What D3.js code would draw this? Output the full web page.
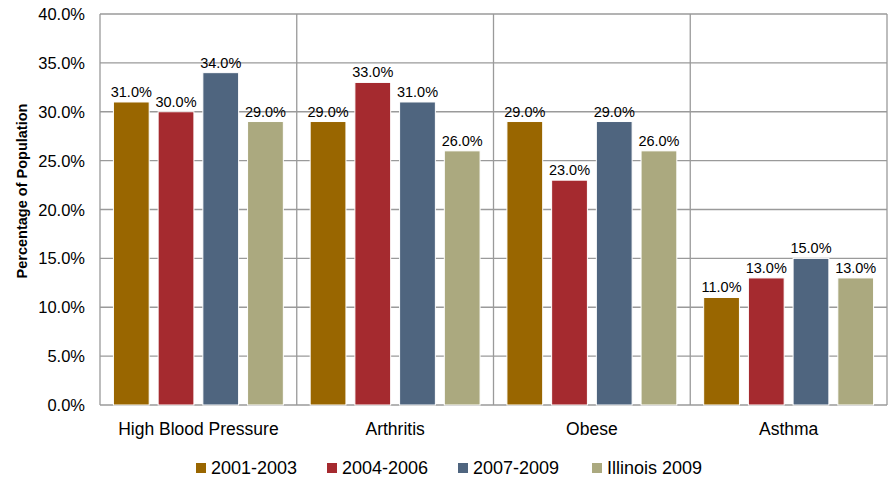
<!DOCTYPE html>
<html>
<head>
<meta charset="utf-8">
<script src="https://cdn.jsdelivr.net/npm/d3@7"></script>
<style>
  body { margin: 0; background: #fff; }
  text { font-family: "Liberation Sans", Arial, sans-serif; fill: #000; }
</style>
</head>
<body>
<script>
'use strict';

const categories = ["High Blood Pressure", "Arthritis", "Obese", "Asthma"];
const seriesNames = ["2001-2003", "2004-2006", "2007-2009", "Illinois 2009"];
const seriesColors = ["#996600", "#a52a2f", "#4f657f", "#aba97f"];
const values2001 = [31, 29, 29, 11];
const values2004 = [30, 33, 23, 13];
const values2007 = [34, 31, 29, 15];
const valuesIL = [29, 26, 26, 13];
const yTicks = [0, 5, 10, 15, 20, 25, 30, 35, 40];

const allSeries = [values2001, values2004, values2007, valuesIL];

let width = 889, height = 479;
let plot = {left: 100, right: 887, top: 14, bottom: 405};

let svg = d3.select('body').append('svg')
  .attr('width', width)
  .attr('height', height);

let xScale = d3.scaleBand()
  .domain(categories)
  .range([plot.left, plot.right]);

let inner = d3.scaleBand()
  .domain(seriesNames)
  .range([0, xScale.bandwidth()])
  .paddingInner(0.2)
  .paddingOuter(0.3);

let yScale = d3.scaleLinear()
  .domain([0, 40])
  .range([plot.bottom, plot.top]);

// horizontal gridlines
svg.append('g')
  .selectAll('line')
  .data(yTicks)
  .enter()
  .append('line')
    .attr('x1', plot.left)
    .attr('x2', plot.right)
    .attr('y1', d => yScale(d))
    .attr('y2', d => yScale(d))
    .attr('stroke', '#9a9a9a')
    .attr('stroke-width', 1.3);

// vertical separators between categories
let edges = categories.map(c => xScale(c)).concat([plot.right]);
svg.append('g')
  .selectAll('line')
  .data(edges)
  .enter()
  .append('line')
    .attr('x1', d => d)
    .attr('x2', d => d)
    .attr('y1', plot.top)
    .attr('y2', plot.bottom)
    .attr('stroke', '#9a9a9a')
    .attr('stroke-width', 1.3);

// bars + value labels
for (let s = 0; s < allSeries.length; s++) {
  let g = svg.append('g');
  g.selectAll('rect')
    .data(allSeries[s])
    .enter()
    .append('rect')
      .attr('x', (d, i) => xScale(categories[i]) + inner(seriesNames[s]))
      .attr('y', d => yScale(d))
      .attr('width', inner.bandwidth())
      .attr('height', d => yScale(0) - yScale(d))
      .attr('fill', seriesColors[s])
      .attr('stroke', '#ffffff')
      .attr('stroke-width', 1);

  g.selectAll('text')
    .data(allSeries[s])
    .enter()
    .append('text')
      .attr('x', (d, i) => xScale(categories[i]) + inner(seriesNames[s]) + inner.bandwidth() / 2)
      .attr('y', d => yScale(d) - 5)
      .attr('text-anchor', 'middle')
      .style('font-size', '14.5px')
      .text(d => d.toFixed(1) + '%');
}

// y axis labels
svg.append('g')
  .selectAll('text')
  .data(yTicks)
  .enter()
  .append('text')
    .attr('x', plot.left - 15)
    .attr('y', d => yScale(d) + 6)
    .attr('text-anchor', 'end')
    .style('font-size', '16.5px')
    .text(d => d.toFixed(1) + '%');

// category labels
svg.append('g')
  .selectAll('text')
  .data(categories)
  .enter()
  .append('text')
    .attr('x', d => xScale(d) + xScale.bandwidth() / 2)
    .attr('y', 435)
    .attr('text-anchor', 'middle')
    .style('font-size', '17.5px')
    .text(d => d);

// y axis title
svg.append('text')
  .attr('transform', 'translate(27, 191)rotate(-90)')
  .attr('text-anchor', 'middle')
  .style('font-size', '14.5px')
  .style('font-weight', 'bold')
  .text('Percentage of Population');

// legend
let legendX = [196, 327, 458, 592];
let legend = svg.append('g');
for (let s = 0; s < seriesNames.length; s++) {
  legend.append('rect')
    .attr('x', legendX[s])
    .attr('y', 463)
    .attr('width', 10)
    .attr('height', 10)
    .attr('fill', seriesColors[s]);
  legend.append('text')
    .attr('x', legendX[s] + 15)
    .attr('y', 474)
    .style('font-size', '18px')
    .text(seriesNames[s]);
}
</script>
</body>
</html>
